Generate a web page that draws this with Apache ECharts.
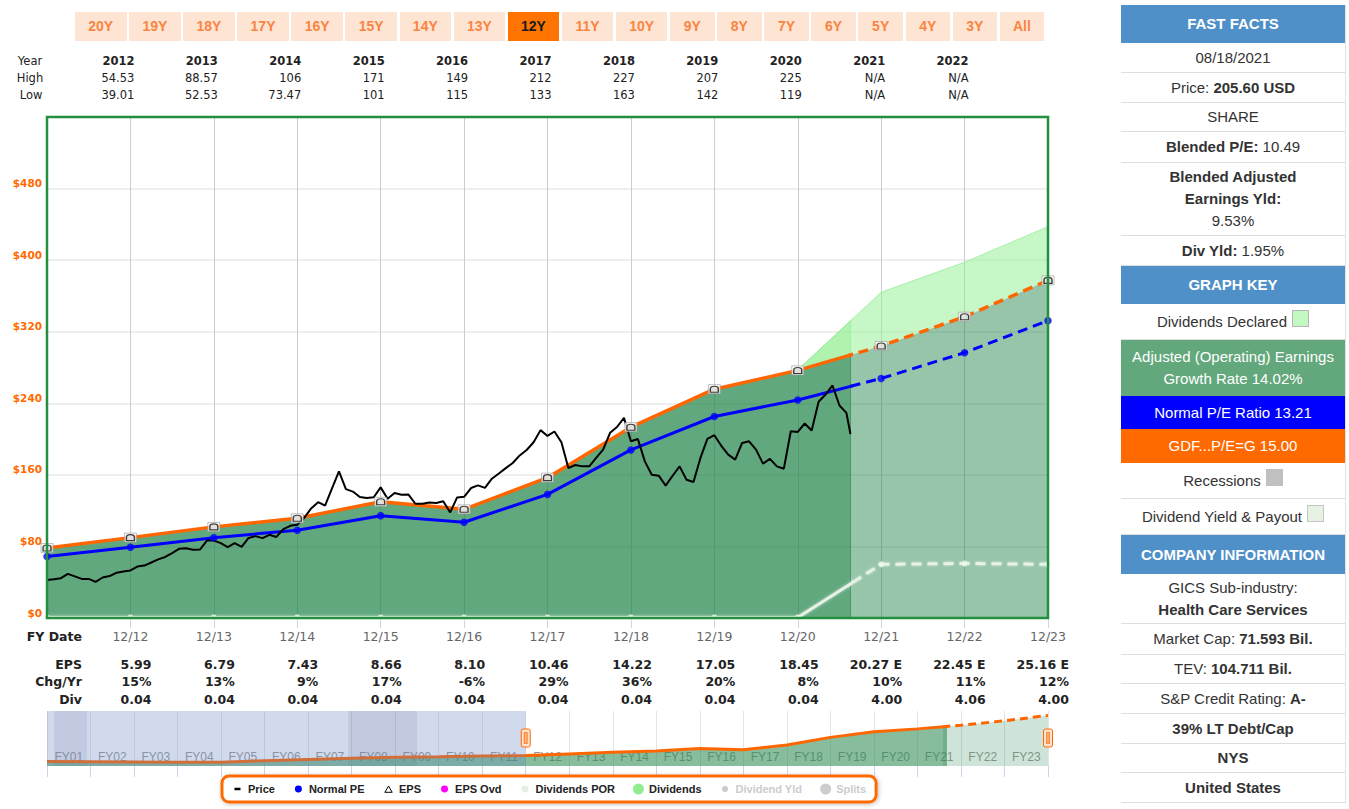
<!DOCTYPE html>
<html>
<head>
<meta charset="utf-8">
<title>FAST Graphs</title>
<script src="https://cdn.jsdelivr.net/npm/echarts@6.0.0/dist/echarts.min.js"></script>
<style>
html,body{margin:0;padding:0;background:#fff;width:1349px;height:809px;overflow:hidden;font-family:"Liberation Sans",Arial,sans-serif;}
#chart{position:absolute;left:0;top:0;width:1349px;height:809px;}
#buttons{position:absolute;left:75px;top:12px;display:flex;gap:2.6px;}
.btn{height:29px;line-height:29px;text-align:center;background:#fde4d3;color:#f98543;font-weight:bold;font-size:14px;}
.btn.wide{width:51.5px}
.btn.narrow{width:44.5px}
.btn.active{background:#ff7400;color:#1a1a1a}
#panel{position:absolute;left:1121px;top:5px;width:224px;box-sizing:content-box;border-right:1px solid #e2e2e2;font-size:15px;color:#333;}
.row{display:flex;align-items:center;justify-content:center;text-align:center;border-bottom:1px solid #ddd;box-sizing:border-box;line-height:22px;}
.row > div{width:100%;}
.row.hdr{background:#4f90c8;color:#fff;font-weight:bold;border-bottom:none;}
.row.green{background:#62a87c;color:#fff;border-bottom:none;line-height:21.7px;}
.row.blue{background:#0000ff;color:#fff;border-bottom:none;}
.row.orange{background:#ff6a00;color:#fff;border-bottom:none;}
.sw{display:inline-block;width:17px;height:17px;margin-left:5px;box-sizing:border-box;}
</style>
</head>
<body>
<div id="chart"></div>
<div id="buttons"></div>
<div id="panel"></div>
<script>
// ---------------- data ----------------
const fyYears   = [2012, 2013, 2014, 2015, 2016, 2017, 2018, 2019, 2020, 2021, 2022, 2023];
const epsValues = [5.99, 6.79, 7.43, 8.66, 8.10, 10.46, 14.22, 17.05, 18.45, 20.27, 22.45, 25.16];
const epsChange = [15, 13, 9, 17, -6, 29, 36, 20, 8, 10, 11, 12];
const dividends = [0.04, 0.04, 0.04, 0.04, 0.04, 0.04, 0.04, 0.04, 0.04, 4.00, 4.06, 4.00];
const firstEstimateYear = 2021;

const histYears     = [2000, 2001, 2002, 2003, 2004, 2005, 2006, 2007, 2008, 2009, 2010, 2011];
const histEps       = [2.2, 2.1, 2.0, 1.85, 1.9, 2.6, 3.2, 3.8, 4.3, 4.6, 5.0, 5.21];
const histDividends = [0.04, 0.04, 0.04, 0.04, 0.04, 0.04, 0.04, 0.04, 0.04, 0.04, 0.04, 0.04];

const gdfRatio = 15.00;
const normalPERatio = 13.21;

const priceStartMonth = '2011-12';
const monthlyPrice = [
  42.6, 43.2, 44.5, 49.3, 46.5, 43.7, 43.7, 40.3, 45.3, 46.9,
  50.6, 51.9, 53.1, 57.5, 58.6, 62.0, 65.5, 68.2, 72.5, 77.3,
  78.0, 76.2, 76.5, 86.6, 86.6, 83.7, 79.2, 83.7, 79.5, 89.5,
  91.5, 89.3, 93.0, 90.6, 99.4, 103.0, 104.2, 112.0, 122.5, 129.5,
  125.5, 145.0, 164.0, 144.0, 141.3, 135.2, 134.1, 135.0, 146.0, 133.2,
  139.7, 137.8, 138.0, 127.7, 127.7, 129.2, 128.6, 130.5, 118.0, 134.8,
  135.5, 145.3, 148.2, 145.5, 155.7, 161.5, 167.5, 173.3, 181.7, 187.8,
  196.4, 210.0, 203.5, 208.5, 196.4, 167.7, 171.0, 169.5, 169.5, 178.9,
  188.2, 207.0, 213.5, 223.7, 197.5, 200.0, 175.1, 160.2, 159.1, 147.9,
  159.0, 169.5, 154.6, 152.0, 178.9, 200.2, 204.3, 192.5, 182.6, 177.0,
  195.7, 197.5, 188.2, 172.5, 177.8, 169.5, 166.9, 208.7, 208.0, 217.4,
  209.5, 241.7, 249.8, 259.9, 237.5, 229.3
];
const lastPriceDate = '2021-08-18';
const lastPrice = 205.60;

const rangeYears = [2012, 2013, 2014, 2015, 2016, 2017, 2018, 2019, 2020, 2021, 2022];
const rangeHigh  = [54.53, 88.57, 106, 171, 149, 212, 227, 207, 225, null, null];
const rangeLow   = [39.01, 52.53, 73.47, 101, 115, 133, 163, 142, 119, null, null];

const recessions = [['2001-03-01', '2001-11-30'], ['2007-12-01', '2009-06-30']];

const priceAxisMin = 0, priceAxisMax = 560, priceAxisStep = 80;

const rangeButtons = ['20Y','19Y','18Y','17Y','16Y','15Y','14Y','13Y','12Y','11Y','10Y','9Y','8Y','7Y','6Y','5Y','4Y','3Y','All'];
const activeRange = '12Y';

const panelRows = [
  ['hdr', 'FAST FACTS', 38],
  ['', '08/18/2021', 30],
  ['', 'Price: <b>205.60 USD</b>', 30],
  ['', 'SHARE', 29],
  ['', '<b>Blended P/E:</b> 10.49', 31],
  ['', '<b>Blended Adjusted<br>Earnings Yld:</b><br>9.53%', 73],
  ['', '<b>Div Yld:</b> 1.95%', 30],
  ['hdr', 'GRAPH KEY', 38],
  ['', 'Dividends Declared<span class="sw" style="background:#c3f8c3;border:1px solid #b5b5b5"></span>', 36],
  ['green', 'Adjusted (Operating) Earnings<br>Growth Rate 14.02%', 56],
  ['blue', 'Normal P/E Ratio 13.21', 33],
  ['orange', 'GDF...P/E=G 15.00', 34],
  ['', 'Recessions<span class="sw" style="background:#c0c0c0"></span>', 36],
  ['', 'Dividend Yield &amp; Payout<span class="sw" style="background:#e6f2e2;border:1px solid #c5c5c5"></span>', 36],
  ['hdr', 'COMPANY INFORMATION', 39],
  ['', 'GICS Sub-industry:<br><b>Health Care Services</b>', 50],
  ['', 'Market Cap: <b>71.593 Bil.</b>', 31],
  ['', 'TEV: <b>104.711 Bil.</b>', 29],
  ['', 'S&amp;P Credit Rating: <b>A-</b>', 30],
  ['', '<b>39% LT Debt/Cap</b>', 30],
  ['', '<b>NYS</b>', 29],
  ['', '<b>United States</b>', 30]
];

// ---------------- html parts ----------------
document.getElementById('buttons').innerHTML = rangeButtons.map(b =>
  `<div class="btn ${/^\d\dY$/.test(b) ? 'wide' : 'narrow'}${b === activeRange ? ' active' : ''}">${b}</div>`).join('');
document.getElementById('panel').innerHTML = panelRows.map(r =>
  `<div class="row ${r[0]}" style="height:${r[2]}px"><div>${r[1]}</div></div>`).join('');

// ---------------- helpers ----------------
// axis value Y means end of December of year Y
function dateToX(s) {
  const p = s.split('-').map(Number);
  const y = p[0], m = p[1];
  const dim = new Date(Date.UTC(y, m, 0)).getUTCDate();
  const d = p.length > 2 ? p[2] : dim;
  return y - 1 + (m - 1 + d / dim) / 12;
}
const pts = (xs, ys) => xs.map((x, i) => [x, ys[i]]);

const lastYear = fyYears[fyYears.length - 1];
const windowStart = activeRange === 'All' ? histYears[0] : lastYear - parseInt(activeRange, 10);
const splitX = dateToX(lastPriceDate);

const allYears = [histYears[histYears.length - 1]].concat(fyYears);
const allEps = [histEps[histEps.length - 1]].concat(epsValues);
const allDiv = [histDividends[histDividends.length - 1]].concat(dividends);
const gdfLine = allEps.map(e => e * gdfRatio);
const npeLine = allEps.map(e => e * normalPERatio);
const divLine = allDiv.map(d => d * gdfRatio);
const divTop = gdfLine.map((v, i) => v + divLine[i]);
const divBand = allYears.map((y, i) => [y, gdfLine[i], divTop[i]]);

const navYears = histYears.concat(fyYears);
const navGdf = histEps.concat(epsValues).map(e => e * gdfRatio);
const navLabels = navYears.slice(1).map(y => 'FY' + String(y).slice(2));
const navMax = 410;

const priceStartX = dateToX(priceStartMonth);
const pricePts = monthlyPrice.map((v, i) => [priceStartX + i / 12, v]);
pricePts.push([splitX, lastPrice]);

// ---------------- layout ----------------
const M = { left: 47, top: 117, width: 1001, height: 501 };
const N = { left: 47, top: 711, width: 1001, height: 55 };
const wA = M.width * (splitX - windowStart) / (lastYear - windowStart);
const nwA = N.width * (splitX - navYears[0]) / (lastYear - navYears[0]);

const box = 'M0,0L0.01,0ZM11,11L11.01,11Z';
const dot = r => `path://${box}M${5.5 - r},5.5A${r},${r},0,1,1,${5.5 + r},5.5A${r},${r},0,1,1,${5.5 - r},5.5Z`;
const domePath = 'path://M0,10L0,5C0,-0.5,10,-0.5,10,5L10,10Z';

const hiddenX = (grid, min, max) => ({ type: 'value', gridIndex: grid, min, max, show: false });
const hiddenY = (grid, max) => ({ type: 'value', gridIndex: grid, min: 0, max, show: false });

// band between the GDF line and GDF + dividends, drawn through the axis scales
function bandSeries(xi, yi, fill) {
  return {
    type: 'custom', name: 'Dividends', xAxisIndex: xi, yAxisIndex: yi, data: divBand, clip: true, silent: true, z: 2,
    encode: { x: 0, y: [1, 2] }, itemStyle: { color: '#90ee90' },
    renderItem: (params, api) => {
      if (params.dataIndexInside !== 0) return null;
      const n = params.dataInsideLength;
      const lower = [], upper = [];
      for (let j = 0; j < n; j++) {
        lower.push(api.coord([api.value(0, j), api.value(1, j)]));
        upper.push(api.coord([api.value(0, j), api.value(2, j)]));
      }
      return { type: 'polygon', shape: { points: lower.concat(upper.reverse()) }, style: { fill: fill, stroke: 'none' } };
    }
  };
}

const chart = echarts.init(document.getElementById('chart'), null, { renderer: 'svg', width: 1349, height: 809 });

const option = {
  animation: false,
  backgroundColor: '#fff',
  grid: [
    { left: M.left, top: M.top, width: M.width, height: M.height, show: false, outerBoundsMode: 'none' },
    { left: M.left, top: M.top, width: wA, height: M.height, outerBoundsMode: 'none' },
    { left: M.left + wA, top: M.top, width: M.width - wA, height: M.height, outerBoundsMode: 'none' },
    { left: N.left, top: N.top, width: N.width, height: N.height, outerBoundsMode: 'none' },
    { left: N.left, top: N.top, width: nwA, height: N.height, outerBoundsMode: 'none' },
    { left: N.left + nwA, top: N.top, width: N.width - nwA, height: N.height, outerBoundsMode: 'none' }
  ],
  xAxis: [
    {
      type: 'value', gridIndex: 0, min: windowStart, max: lastYear, interval: 1,
      axisLine: { show: false },
      axisTick: { show: true, length: 10, lineStyle: { color: '#ccd6eb' } },
      splitLine: { show: true, lineStyle: { color: '#cccccc', width: 1 } },
      axisLabel: { formatter: v => '12/' + String(v).slice(2), color: '#666', fontSize: 12.5, fontFamily: 'DejaVu Sans', margin: 12, showMinLabel: false }
    },
    hiddenX(1, windowStart, splitX),
    hiddenX(2, splitX, lastYear),
    {
      type: 'value', gridIndex: 3, min: navYears[0], max: lastYear, interval: 1,
      axisLine: { show: false }, axisLabel: { show: false },
      axisTick: { show: true, length: 11, lineStyle: { color: '#ccd6eb' } },
      splitLine: { show: true, lineStyle: { color: '#e4e4e4' } }
    },
    {
      type: 'category', gridIndex: 3, data: navLabels, position: 'bottom', boundaryGap: true,
      axisLine: { show: false }, axisTick: { show: false }, splitLine: { show: false },
      axisLabel: { inside: true, interval: 0, color: '#999', fontSize: 12, fontFamily: 'Liberation Sans', margin: 3 }
    },
    hiddenX(4, navYears[0], splitX),
    hiddenX(5, splitX, lastYear)
  ],
  yAxis: [
    {
      type: 'value', gridIndex: 0, min: priceAxisMin, max: priceAxisMax, interval: priceAxisStep,
      axisLine: { show: false }, axisTick: { show: false },
      splitLine: { show: true, lineStyle: { color: '#e8e8e8', width: 1.5 } },
      axisLabel: { formatter: v => '$' + v, color: '#ff6a00', fontWeight: 'bold', fontSize: 10.5, fontFamily: 'DejaVu Sans', margin: 5, verticalAlign: 'bottom', showMaxLabel: false }
    },
    hiddenY(1, priceAxisMax),
    hiddenY(2, priceAxisMax),
    hiddenY(3, navMax),
    hiddenY(4, navMax),
    hiddenY(5, navMax)
  ],
  legend: {
    left: 222, top: 776, orient: 'horizontal',
    padding: [7, 10, 7, 10], itemGap: 18, itemWidth: 11, itemHeight: 11,
    backgroundColor: '#fff', borderColor: '#ff6a00', borderWidth: 3, borderRadius: 7,
    shadowBlur: 4, shadowColor: 'rgba(0,0,0,0.25)', shadowOffsetX: 1, shadowOffsetY: 1,
    textStyle: { fontFamily: 'Liberation Sans', fontWeight: 'bold', fontSize: 11, color: '#222' },
    inactiveColor: '#cccccc', inactiveBorderColor: '#cccccc',
    itemStyle: { borderWidth: 0 },
    selected: { 'Dividend Yld': false, 'Splits': false },
    data: [
      { name: 'Price', icon: `path://${box}M2.5,4.3L8.5,4.3L8.5,6.8L2.5,6.8Z`, itemStyle: { color: '#000', borderWidth: 0 } },
      { name: 'Normal PE', icon: dot(3.5), itemStyle: { color: '#0000ff', borderWidth: 0 } },
      { name: 'EPS', icon: `path://${box}M1.8,8.8L5.5,2.6L9.2,8.8Z`, itemStyle: { color: '#fff', borderColor: '#000', borderWidth: 1 } },
      { name: 'EPS Ovd', icon: dot(3.5), itemStyle: { color: '#ff00ff', borderWidth: 0 } },
      { name: 'Dividends POR', icon: dot(3.5), itemStyle: { color: '#e2f0e2', borderWidth: 0 } },
      { name: 'Dividends', icon: dot(5.5), itemStyle: { color: '#90ee90', borderWidth: 0 } },
      { name: 'Dividend Yld', icon: dot(3), itemStyle: { color: '#ccc', borderWidth: 0 } },
      { name: 'Splits', icon: dot(5.5), itemStyle: { color: '#ccc', borderWidth: 0 } }
    ]
  },
  series: [
    // areas under the GDF line
    { type: 'line', name: 'EarningsArea', xAxisIndex: 1, yAxisIndex: 1, data: pts(allYears, gdfLine), symbol: 'none', silent: true,
      lineStyle: { width: 0 }, areaStyle: { color: 'rgba(37,134,76,0.72)', opacity: 1 }, z: 2 },
    { type: 'line', name: 'EarningsAreaF', xAxisIndex: 2, yAxisIndex: 2, data: pts(allYears, gdfLine), symbol: 'none', silent: true,
      lineStyle: { width: 0 }, areaStyle: { color: 'rgba(37,134,76,0.48)', opacity: 1 }, z: 2 },
    // dividends band above the GDF line
    bandSeries(1, 1, 'rgba(144,238,144,0.72)'),
    bandSeries(2, 2, 'rgba(144,238,144,0.5)'),
    { type: 'line', name: 'Dividends', xAxisIndex: 1, yAxisIndex: 1, data: pts(allYears, divTop), symbol: 'none', silent: true,
      lineStyle: { width: 1, color: '#8fe98f' }, itemStyle: { color: '#90ee90' }, z: 3 },
    { type: 'line', name: 'Dividends', xAxisIndex: 2, yAxisIndex: 2, data: pts(allYears, divTop), symbol: 'none', silent: true,
      lineStyle: { width: 1, color: '#a6f0a6' }, itemStyle: { color: '#90ee90' }, z: 3 },
    // dividends POR lines
    { type: 'line', name: 'Dividends POR', xAxisIndex: 1, yAxisIndex: 1, data: pts(allYears, divLine), symbol: 'none', silent: true,
      lineStyle: { width: 3, color: '#e6f2e6', shadowBlur: 3, shadowColor: 'rgba(255,255,255,0.6)' }, itemStyle: { color: '#e6f2e6' }, z: 4 },
    { type: 'line', name: 'Dividends POR', xAxisIndex: 2, yAxisIndex: 2, data: pts(allYears, divLine), symbol: 'none', silent: true,
      lineStyle: { width: 3, color: '#e6f2e6', type: [10, 6], shadowBlur: 3, shadowColor: 'rgba(255,255,255,0.6)' }, itemStyle: { color: '#e6f2e6' }, z: 4 },
    // EPS x GDF (orange)
    { type: 'line', name: 'EPS', xAxisIndex: 1, yAxisIndex: 1, data: pts(allYears, gdfLine), symbol: 'none', silent: true,
      lineStyle: { width: 3.5, color: '#ff6600' }, itemStyle: { color: '#ff6600' }, z: 5 },
    { type: 'line', name: 'EPS', xAxisIndex: 2, yAxisIndex: 2, data: pts(allYears, gdfLine), symbol: 'none', silent: true,
      lineStyle: { width: 3.5, color: '#ff6600', type: [10, 6] }, itemStyle: { color: '#ff6600' }, z: 5 },
    // Normal PE (blue)
    { type: 'line', name: 'Normal PE', xAxisIndex: 1, yAxisIndex: 1, data: pts(allYears, npeLine), symbol: 'none', silent: true,
      lineStyle: { width: 3, color: '#0000ff' }, itemStyle: { color: '#0000ff' }, z: 5 },
    { type: 'line', name: 'Normal PE', xAxisIndex: 2, yAxisIndex: 2, data: pts(allYears, npeLine), symbol: 'none', silent: true,
      lineStyle: { width: 3, color: '#0000ff', type: [10, 6] }, itemStyle: { color: '#0000ff' }, z: 5 },
    // price
    { type: 'line', name: 'Price', xAxisIndex: 0, yAxisIndex: 0, data: pricePts, symbol: 'none', silent: true,
      lineStyle: { width: 2, color: '#000' }, itemStyle: { color: '#000' }, z: 6 },
    // markers
    { type: 'scatter', name: 'Dividends POR', xAxisIndex: 0, yAxisIndex: 0, data: pts(allYears, divLine), symbolSize: 6, silent: true,
      itemStyle: { color: '#eef7ee' }, z: 7 },
    { type: 'scatter', name: 'Normal PE', xAxisIndex: 0, yAxisIndex: 0, data: pts(allYears, npeLine), symbolSize: 7.5, silent: true,
      itemStyle: { color: '#0000ff' }, z: 7 },
    { type: 'scatter', name: 'EPS', xAxisIndex: 0, yAxisIndex: 0, data: pts(allYears, gdfLine), symbol: 'rect', symbolSize: [12, 9], silent: true,
      itemStyle: { color: '#ffffff', borderColor: '#9a9a9a', borderWidth: 0.8 }, z: 8 },
    { type: 'scatter', name: 'EPS', xAxisIndex: 0, yAxisIndex: 0, data: pts(allYears, gdfLine), symbol: domePath, symbolSize: [8, 6], silent: true,
      itemStyle: { color: '#dedede', borderColor: '#111', borderWidth: 1.2 }, z: 9 },
    // legend-only series
    { type: 'line', name: 'EPS Ovd', xAxisIndex: 0, yAxisIndex: 0, data: [], itemStyle: { color: '#ff00ff' } },
    { type: 'line', name: 'Dividend Yld', xAxisIndex: 0, yAxisIndex: 0, data: [], itemStyle: { color: '#ccc' } },
    { type: 'line', name: 'Splits', xAxisIndex: 0, yAxisIndex: 0, data: [], itemStyle: { color: '#ccc' } },
    // navigator
    { type: 'line', name: 'navPast', xAxisIndex: 5, yAxisIndex: 4, data: pts(navYears, navGdf), symbol: 'none', silent: true,
      lineStyle: { width: 3, color: '#ff6600' }, areaStyle: { color: 'rgba(37,134,76,0.55)', opacity: 1 }, z: 2 },
    { type: 'line', name: 'navFuture', xAxisIndex: 6, yAxisIndex: 5, data: pts(navYears, navGdf), symbol: 'none', silent: true,
      lineStyle: { width: 3, color: '#ff6600', type: [8, 5] }, areaStyle: { color: 'rgba(37,134,76,0.22)', opacity: 1 }, z: 2 },
    { type: 'line', name: 'navMask', xAxisIndex: 3, yAxisIndex: 3, data: [[navYears[0], navMax], [windowStart, navMax]], symbol: 'none', silent: true,
      lineStyle: { width: 0 }, areaStyle: { color: 'rgba(102,133,194,0.3)', opacity: 1 }, z: 10,
      markArea: { silent: true, itemStyle: { color: 'rgba(120,120,135,0.16)' },
        data: recessions.map(r => [{ xAxis: dateToX(r[0]) }, { xAxis: dateToX(r[1]) }]) } }
  ]
};
chart.setOption(option);

// ---------------- aligned text tables ----------------
const px = v => chart.convertToPixel({ xAxisIndex: 0 }, v);
const T = (text, x, y, font, align, color) => ({
  type: 'text', silent: true, z: 50,
  style: { text: String(text), x, y, font, fill: color || '#222', align, verticalAlign: 'middle', textAlign: align, textVerticalAlign: 'middle' }
});
const fReg = '11.5px "DejaVu Sans"';
const fBoldS = 'bold 11.5px "DejaVu Sans"';
const fBold = 'bold 12.5px "DejaVu Sans"';
const fmtRange = v => v == null ? 'N/A' : (v >= 100 ? String(Math.round(v)) : v.toFixed(2));

const g = [];
// plot frame
g.push({ type: 'rect', silent: true, z: 40, shape: { x: M.left, y: M.top, width: M.width, height: M.height },
  style: { fill: 'none', stroke: '#23903f', lineWidth: 2.5 } });
g.push(T('Year', 30, 61, fReg, 'center'));
g.push(T('High', 30, 78, fReg, 'center'));
g.push(T('Low', 31, 95, fReg, 'center'));
rangeYears.forEach((y, i) => {
  const x = px(y) + 4;
  g.push(T(y, x, 61, fBoldS, 'right'));
  g.push(T(fmtRange(rangeHigh[i]), x, 78, fReg, 'right'));
  g.push(T(fmtRange(rangeLow[i]), x, 95, fReg, 'right'));
});
g.push(T('FY Date', 82, 636, fBold, 'right'));
g.push(T('EPS', 82, 664, fBold, 'right'));
g.push(T('Chg/Yr', 82, 681.5, fBold, 'right'));
g.push(T('Div', 82, 699, fBold, 'right'));
fyYears.forEach((y, i) => {
  const x = px(y) + 21;
  g.push(T(epsValues[i].toFixed(2) + (y >= firstEstimateYear ? ' E' : ''), x, 664, fBold, 'right'));
  g.push(T(epsChange[i] + '%', x, 681.5, fBold, 'right'));
  g.push(T(dividends[i].toFixed(2), x, 699, fBold, 'right'));
});
// navigator handles
[windowStart, lastYear].forEach(v => {
  const hx = chart.convertToPixel({ xAxisIndex: 3 }, v);
  g.push({ type: 'rect', silent: true, z: 60, shape: { x: hx - 4.5, y: 729, width: 9, height: 18, r: 2 }, style: { fill: '#fbe3d0', stroke: '#ff6a00', lineWidth: 1 } });
  g.push({ type: 'rect', silent: true, z: 61, shape: { x: hx - 2, y: 732, width: 4, height: 12 }, style: { fill: '#ff8a3a', stroke: 'none' } });
  g.push({ type: 'line', silent: true, z: 62, shape: { x1: hx, y1: 733, x2: hx, y2: 743 }, style: { stroke: '#fde0c8', lineWidth: 0.8 } });
});
chart.setOption({ graphic: { elements: g } });
</script>
</body>
</html>
